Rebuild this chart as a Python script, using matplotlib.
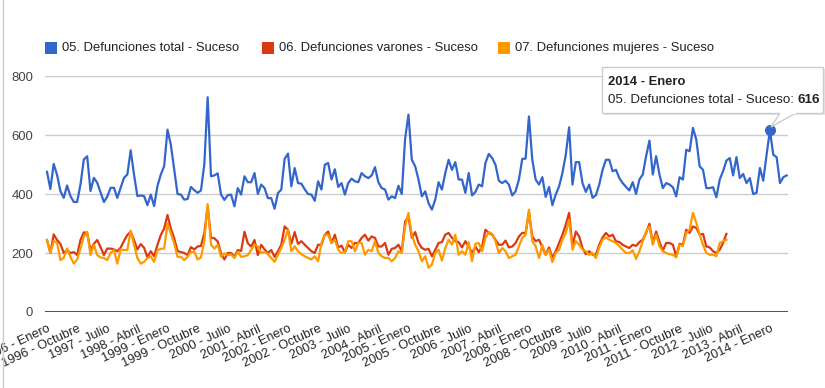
import matplotlib.pyplot as plt
from matplotlib.patches import Rectangle, Polygon
from matplotlib.lines import Line2D

# =====================================================
# DATA (monthly, starting 1996 - Enero)
# =====================================================

TOTAL = [
    475, 417, 502, 465, 410, 387, 429, 393, 373, 373, 432, 517,
    528, 410, 455, 438, 405, 373, 391, 421, 421, 387, 421, 455,
    466, 548, 466, 393, 395, 393, 362, 398, 359, 427, 466, 494,
    618, 567, 483, 400, 398, 381, 383, 424, 413, 404, 412, 500,
    728, 460, 463, 470, 398, 380, 396, 398, 358, 420, 398, 460,
    440, 440, 471, 400, 432, 420, 386, 386, 350, 403, 415, 519,
    537, 426, 488, 437, 435, 416, 400, 398, 377, 443, 415, 499,
    505, 449, 484, 424, 437, 398, 437, 452, 443, 440, 471, 460,
    454, 463, 491, 440, 420, 415, 381, 392, 386, 428, 400, 588,
    669, 516, 494, 449, 392, 409, 369, 347, 381, 440, 415, 471,
    516, 482, 508, 449, 449, 404, 471, 395, 407, 432, 426, 505,
    536, 522, 499, 445, 437, 445, 432, 395, 409, 449, 519, 520,
    663, 516, 449, 432, 457, 390, 424, 362, 398, 426, 471, 533,
    626, 432, 508, 508, 437, 407, 432, 387, 396, 432, 482, 516,
    516, 477, 482, 454, 437, 424, 412, 440, 400, 449, 466, 528,
    581, 466, 528, 466, 420, 437, 432, 423, 392, 457, 449, 550,
    545, 624, 584, 494, 482, 420, 420, 423, 389, 449, 477, 513,
    522, 463, 525, 454, 468, 437, 454, 400, 404, 488, 445, 533,
    616, 533, 525, 437, 457, 463,
]

VARONES = [
    244, 200, 263, 244, 231, 200, 210, 200, 203, 193, 244, 270,
    267, 210, 231, 244, 220, 193, 215, 215, 212, 206, 218, 241,
    261, 272, 244, 212, 230, 218, 185, 206, 189, 228, 261, 283,
    329, 283, 250, 207, 203, 200, 193, 220, 212, 222, 224, 267,
    357, 252, 250, 239, 199, 178, 200, 200, 187, 210, 207, 272,
    233, 222, 244, 193, 228, 212, 200, 210, 187, 206, 228, 290,
    279, 231, 271, 231, 240, 228, 217, 206, 200, 228, 228, 262,
    273, 234, 262, 219, 225, 202, 228, 217, 234, 234, 251, 262,
    242, 256, 251, 222, 222, 234, 194, 214, 217, 228, 206, 307,
    324, 251, 271, 234, 217, 211, 214, 189, 211, 234, 237, 262,
    268, 251, 240, 237, 219, 240, 222, 200, 222, 203, 222, 279,
    268, 262, 245, 228, 228, 242, 219, 222, 234, 256, 268, 268,
    339, 256, 240, 245, 219, 194, 219, 183, 206, 234, 262, 296,
    336, 222, 273, 256, 217, 196, 206, 194, 194, 228, 253, 268,
    256, 262, 240, 237, 228, 222, 217, 228, 224, 237, 245, 268,
    299, 234, 273, 237, 208, 234, 234, 228, 189, 231, 228, 279,
    268, 290, 285, 262, 265, 222, 219, 206, 200, 211, 234, 265,
]

MUJERES = [
    244, 200, 241, 235, 176, 183, 215, 187, 164, 178, 215, 256,
    272, 193, 228, 193, 185, 183, 176, 200, 210, 164, 212, 210,
    210, 276, 228, 183, 164, 170, 183, 189, 170, 210, 214, 215,
    300, 267, 233, 187, 187, 176, 187, 204, 204, 178, 185, 241,
    366, 228, 215, 228, 187, 199, 193, 195, 183, 204, 187, 189,
    193, 210, 228, 222, 200, 204, 196, 183, 170, 194, 217, 245,
    279, 206, 223, 206, 196, 189, 183, 178, 189, 172, 234, 262,
    262, 234, 245, 211, 200, 203, 240, 240, 206, 234, 234, 194,
    211, 206, 240, 200, 189, 183, 183, 172, 183, 206, 200, 290,
    336, 262, 228, 206, 172, 189, 150, 161, 200, 211, 174, 217,
    245, 228, 262, 194, 206, 194, 237, 172, 231, 234, 206, 251,
    271, 265, 240, 200, 217, 206, 183, 189, 194, 223, 251, 262,
    347, 240, 223, 183, 228, 194, 211, 169, 200, 211, 245, 268,
    313, 211, 240, 228, 211, 206, 194, 200, 183, 219, 245, 253,
    245, 240, 234, 223, 211, 200, 200, 209, 180, 206, 240, 273,
    290, 228, 262, 223, 206, 200, 196, 194, 185, 228, 223, 268,
    279, 336, 302, 262, 228, 200, 194, 194, 189, 234, 240, 245,
]

SERIES_NAMES = [
    "05. Defunciones total - Suceso",
    "06. Defunciones varones - Suceso",
    "07. Defunciones mujeres - Suceso",
]

TICK_POS = list(range(0, 217, 9))
TICK_LABELS = [
    "1996 - Enero", "1996 - Octubre", "1997 - Julio", "1998 - Abril",
    "1999 - Enero", "1999 - Octubre", "2000 - Julio", "2001 - Abril",
    "2002 - Enero", "2002 - Octubre", "2003 - Julio", "2004 - Abril",
    "2005 - Enero", "2005 - Octubre", "2006 - Julio", "2007 - Abril",
    "2008 - Enero", "2008 - Octubre", "2009 - Julio", "2010 - Abril",
    "2011 - Enero", "2011 - Octubre", "2012 - Julio", "2013 - Abril",
    "2014 - Enero",
]

TOOLTIP_IDX = 216
TOOLTIP_TITLE = "2014 - Enero"

COLORS = ["#3366cc", "#dc3912", "#ff9900"]

# =====================================================
# FIGURE
# =====================================================

plt.rcParams['font.family'] = ['Liberation Sans', 'DejaVu Sans']

W, H = 825, 388
fig = plt.figure(figsize=(W / 100, H / 100), dpi=100)
fig.patch.set_facecolor("white")


def fx(x):
    return x / W


def fy(y):
    return 1 - y / H


ax = fig.add_axes([fx(45), fy(312), (788 - 45) / W, (312 - 76) / H])

for data, color in zip([TOTAL, VARONES, MUJERES], COLORS):
    ax.plot(range(len(data)), data, color=color, lw=1.6,
            solid_joinstyle="round", zorder=3)

ax.plot(TOOLTIP_IDX, TOTAL[TOOLTIP_IDX], "o", ms=7, color=COLORS[0], zorder=4)

ax.set_xlim(-0.6, 221.4)
ax.set_ylim(0, 800)
ax.set_yticks([0, 200, 400, 600, 800])
ax.yaxis.grid(True, color="#cccccc", lw=1)
ax.set_axisbelow(True)
ax.axhline(0, color="#333333", lw=1.2, zorder=2)
for s in ax.spines.values():
    s.set_visible(False)

ax.tick_params(axis="y", length=0, pad=8.5, labelsize=9.4, labelcolor="#444444")
ax.set_xticks(TICK_POS)
ax.set_xticklabels(TICK_LABELS, rotation=25, ha="right",
                   rotation_mode="anchor", fontsize=9.2, color="#222222")
ax.tick_params(axis="x", length=0, pad=8)

# =====================================================
# LEGEND
# =====================================================

for (sx, tx), color, name in zip([(45, 62), (262, 279), (498, 515)],
                                 COLORS, SERIES_NAMES):
    fig.patches.append(Rectangle((fx(sx), fy(54)), 12 / W, 12 / H,
                                 transform=fig.transFigure,
                                 facecolor=color, edgecolor="none"))
    fig.text(fx(tx), fy(48), name, va="center", fontsize=9.4,
             color="#222222")

# =====================================================
# TOOLTIP
# =====================================================

fig.patches.append(Rectangle((fx(604), fy(115)), (824 - 602) / W, 46 / H,
                             transform=fig.transFigure,
                             facecolor="#e6e6e6", edgecolor="none"))
fig.patches.append(Rectangle((fx(602), fy(113)), (823 - 602) / W, 46 / H,
                             transform=fig.transFigure,
                             facecolor="white", edgecolor="#cccccc", lw=1))
fig.patches.append(Polygon([(fx(780), fy(113)), (fx(771), fy(127)),
                            (fx(796), fy(113))], closed=False,
                           transform=fig.transFigure,
                           facecolor="white", edgecolor="#cccccc", lw=1))
fig.lines.append(Line2D([fx(781), fx(795)], [fy(112.5), fy(112.5)],
                        transform=fig.transFigure, color="white", lw=1.5))

fig.text(fx(608), fy(82), TOOLTIP_TITLE, va="center", fontsize=9.4,
         weight="bold", color="#222222")
label = fig.text(fx(608), fy(100), SERIES_NAMES[0] + ":", va="center",
                 fontsize=9.6, color="#222222")

# put the bold value right after the series name
renderer = fig.canvas.get_renderer()
end_x = label.get_window_extent(renderer).x1
fig.text((end_x + 4) / W, fy(100), str(TOTAL[TOOLTIP_IDX]), va="center",
         fontsize=9.6, weight="bold", color="#222222")

# left frame border
fig.lines.append(Line2D([fx(2.5), fx(2.5)], [0, 1],
                        transform=fig.transFigure, color="#cccccc", lw=1))

fig.savefig("out.png", dpi=100)
